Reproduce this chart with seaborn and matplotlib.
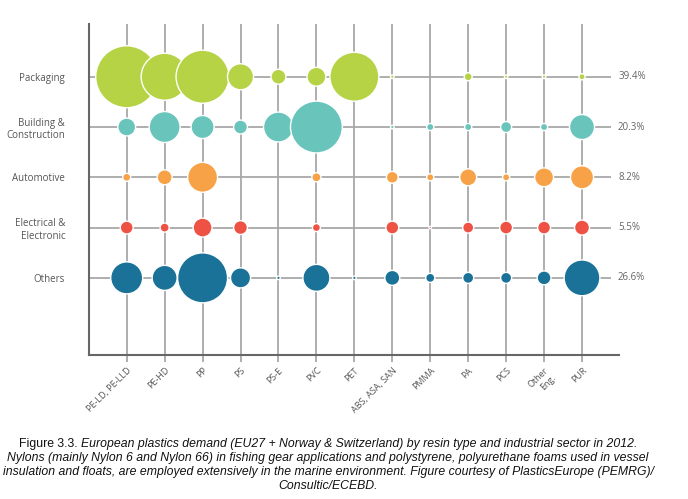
import numpy as np
import pandas as pd
import seaborn as sns
import matplotlib.pyplot as plt
from matplotlib.transforms import ScaledTranslation

# resin types (x) and sectors (y)
resins = ["PE-LD, PE-LLD", "PE-HD", "PP", "PS", "PS-E", "PVC", "PET",
          "ABS, ASA, SAN", "PMMA", "PA", "PCS", "Other\nEng.", "PUR"]
sectors = ["Packaging", "Building &\nConstruction", "Automotive",
           "Electrical &\nElectronic", "Others"]
shares = ["39.4%", "20.3%", "8.2%", "5.5%", "26.6%"]

# estimated demand (Mt)
packaging = [6.0, 3.45, 4.4, 1.06, 0.35, 0.56, 3.75, 0.02, 0.0, 0.1, 0.02, 0.02, 0.06]
building = [0.5, 1.5, 0.83, 0.3, 1.4, 4.2, 0.0, 0.02, 0.08, 0.08, 0.19, 0.08, 0.98]
automotive = [0.1, 0.35, 1.4, 0.0, 0.0, 0.13, 0.0, 0.22, 0.08, 0.45, 0.08, 0.56, 0.83]
electrical = [0.26, 0.13, 0.56, 0.3, 0.0, 0.1, 0.0, 0.26, 0.01, 0.19, 0.26, 0.26, 0.35]
others = [1.6, 0.98, 3.9, 0.63, 0.02, 1.14, 0.02, 0.35, 0.13, 0.19, 0.19, 0.3, 2.0]

colors = ["#b6d345", "#69c5bb", "#f7a246", "#ee5245", "#1b7298"]

df = pd.DataFrame({"resin": resins, sectors[0]: packaging, sectors[1]: building,
                   sectors[2]: automotive, sectors[3]: electrical, sectors[4]: others})
df = df.melt(id_vars="resin", var_name="sector", value_name="demand")
df = df[df["demand"] > 0]
df["x"] = df["resin"].map({r: i for i, r in enumerate(resins)})
df["y"] = df["sector"].map({s: i for i, s in enumerate(sectors)})

sns.set_style("white")
plt.rcParams["font.family"] = ["Open Sans", "DejaVu Sans"]

fig = plt.figure(figsize=(6.88, 4.99), dpi=100)
ax = fig.add_axes([0.129, 0.289, 0.771, 0.663])

grid_col = "#a8a8a8"
for i in range(len(resins)):
    ax.axvline(i, color=grid_col, lw=1.3, zorder=0)
ax.hlines(range(len(sectors)), -1.0, 12.76, color=grid_col, lw=1.3, zorder=0)

vmax = max(df["demand"])
sns.scatterplot(data=df, x="x", y="y", hue="sector", palette=colors,
                size="demand", sizes=(0, 1990 * 1.0), size_norm=(0, vmax),
                edgecolor="white", linewidth=1.0, alpha=1, legend=False,
                ax=ax, zorder=3)

ax.set_xlim(-1.0, 12.98)
ax.set_ylim(5.53, -1.05)
ax.set_xticks(range(len(resins)))
ax.set_xticklabels(resins, rotation=45, ha="right", rotation_mode="anchor",
                   fontsize=6.5, color="#555555")
shift = ScaledTranslation(3 / 72, -3 / 72, fig.dpi_scale_trans)
for lab in ax.get_xticklabels():
    lab.set_transform(lab.get_transform() + shift)
ax.set_yticks(range(len(sectors)))
ax.set_yticklabels(sectors, fontsize=7, color="#555555", ha="right")
ax.tick_params(axis="y", length=0, pad=17)
ax.tick_params(axis="x", length=5, width=1.3, color=grid_col, pad=3, bottom=True)
ax.set_xlabel("")
ax.set_ylabel("")
for s in ["top", "right"]:
    ax.spines[s].set_visible(False)
for s in ["left", "bottom"]:
    ax.spines[s].set_color("#666666")
    ax.spines[s].set_linewidth(1.5)

for i, p in enumerate(shares):
    ax.text(12.95, i, p, fontsize=7, color="#666666", va="center", ha="left")

# caption: plain lead + italic text
cap_font = ["Liberation Sans", "DejaVu Sans"]
cap_size = 8.85
lead = "Figure 3.3. "
rest = ["European plastics demand (EU27 + Norway & Switzerland) by resin type and industrial sector in 2012.",
        "Nylons (mainly Nylon 6 and Nylon 66) in fishing gear applications and polystyrene, polyurethane foams used in vessel",
        "insulation and floats, are employed extensively in the marine environment. Figure courtesy of PlasticsEurope (PEMRG)/",
        "Consultic/ECEBD."]
line_y = [0.111, 0.083, 0.055, 0.027]
cx = 0.477
fig.canvas.draw()
r = fig.canvas.get_renderer()
t1 = fig.text(0, line_y[0], lead, fontsize=cap_size, family=cap_font, va="center",
              color="#111111")
t2 = fig.text(0, line_y[0], rest[0], fontsize=cap_size, family=cap_font, style="italic",
              va="center", color="#111111")
w1 = t1.get_window_extent(r).width / fig.bbox.width
w2 = t2.get_window_extent(r).width / fig.bbox.width
x0 = cx - (w1 + w2) / 2
t1.set_x(x0)
t2.set_x(x0 + w1)
for txt, yy in zip(rest[1:], line_y[1:]):
    fig.text(cx, yy, txt, fontsize=cap_size, family=cap_font, style="italic",
             ha="center", va="center", color="#111111")

plt.savefig("out.png", dpi=100)
